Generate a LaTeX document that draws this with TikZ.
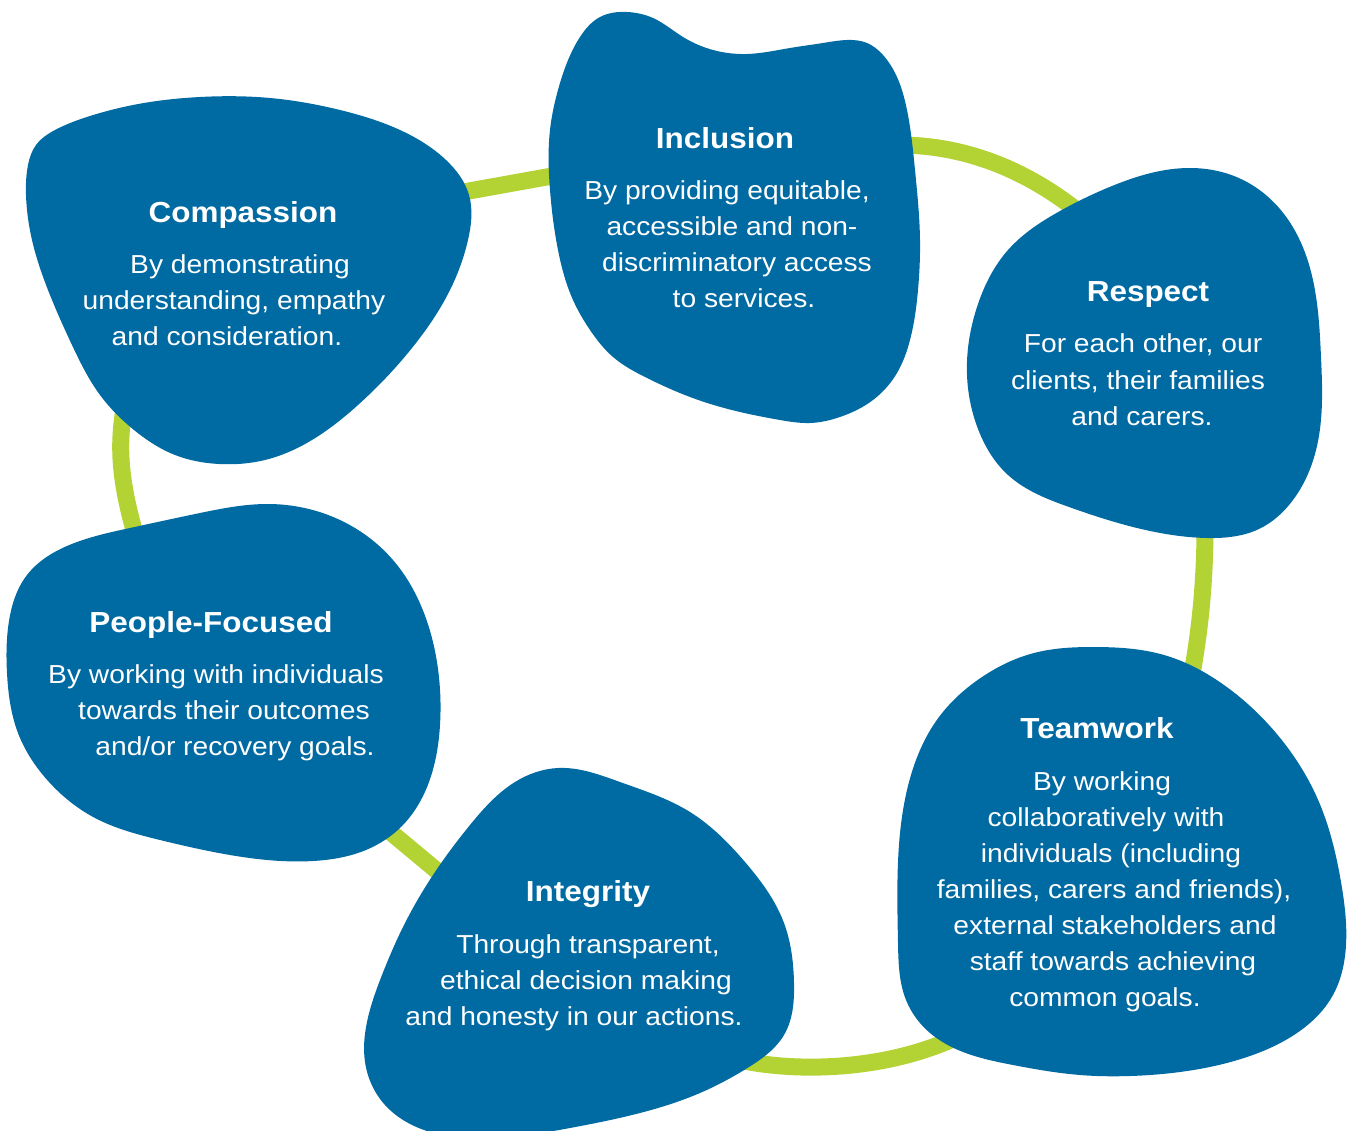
\documentclass[tikz,border=0pt]{standalone}
\usepackage{fontspec}
\usepackage{graphicx}
\usetikzlibrary{hobby}
\setmainfont{Liberation Sans}
\definecolor{blobblue}{HTML}{006AA3}
\definecolor{ringgreen}{HTML}{B3D335}
\newcommand\sx[1]{\scalebox{1.085}[1]{#1}}
\tikzset{
  blob/.style={fill=blobblue, draw=none},
  ring/.style={draw=ringgreen, line width=17pt},
  ttl/.style={text=white, inner sep=0pt, anchor=base, font=\bfseries\fontsize{29}{34}\selectfont},
  bdy/.style={text=white, inner sep=0pt, anchor=base, font=\fontsize{26}{36}\selectfont}
}
\begin{document}
\begin{tikzpicture}[x=1pt,y=-1pt]
\useasboundingbox (0,0) rectangle (1357,1131);
% ring anchor coordinates
\coordinate (r1a) at (430,198);
\coordinate (r1b) at (580,171);
\coordinate (r2a) at (890,145);
\coordinate (r2b) at (1100,230);
\coordinate (r3a) at (1205,505);
\coordinate (r3b) at (1188,695);
\coordinate (r4a) at (975,1028);
\coordinate (r4b) at (730,1058);
\coordinate (r5a) at (370,815);
\coordinate (r5b) at (460,890);
\coordinate (r6a) at (140,550);
\coordinate (r6b) at (128,390);
% ring segments
\draw[ring] (r1a) -- (r1b);
\draw[ring] (r2a) .. controls (970,143) and (1040,175) .. (r2b);
\draw[ring] (r3a) .. controls (1206,580) and (1200,635) .. (r3b);
\draw[ring] (r4a) .. controls (900,1070) and (800,1075) .. (r4b);
\draw[ring] (r5a) -- (r5b);
\draw[ring] (r6a) .. controls (118,480) and (116,440) .. (r6b);
% blobs
% Compassion
\fill[blob] plot[closed hobby] coordinates {(26,195) (28,165) (36,145) (55,130) (90,116) (133,105) (200,97) (270,98) (340,110) (400,130) (446,160) (469,195) (468,240) (450,290) (412,348) (358,405) (312,440) (265,460) (219,464) (175,455) (134,430) (100,395) (72,345) (48,290) (32,240)};
% Inclusion
\fill[blob] plot[closed hobby] coordinates {(550,130) (560,83) (580,37) (600,17) (627,12) (653,18) (683,37) (713,50) (747,54) (790,48) (823,43) (847,40) (867,43) (883,55) (897,77) (907,110) (915,170) (920,240) (918,290) (910,340) (897,373) (873,400) (840,417) (810,423) (780,420) (740,412) (690,397) (647,378) (613,357) (590,330) (573,300) (558,250) (550,190)};
% Respect
\fill[blob] plot[closed hobby] coordinates {(1060,211) (1112,186) (1190,168) (1241,179) (1284,214) (1310,268) (1321,357) (1317,446) (1293,500) (1259,529) (1207,538) (1155,532) (1069,507) (1008,475) (978,429) (967,375) (978,304) (1008,250)};
% Teamwork
\fill[blob] plot[closed hobby] coordinates {(1034,653) (1094,647) (1164,655) (1224,685) (1276,733) (1319,802) (1341,882) (1346,945) (1333,995) (1297,1033) (1247,1057) (1180,1072) (1130,1076) (1080,1075) (1013,1065) (963,1052) (930,1033) (906,1000) (898,943) (898,862) (909,782) (939,717) (982,677)};
% People-Focused
\fill[blob] plot[closed hobby] coordinates {(268,504) (200,513) (130,528) (67,546) (27,575) (9,621) (7,673) (18,733) (49,782) (95,818) (160,840) (230,855) (313,861) (366,850) (402,826) (429,782) (440,725) (438,669) (424,613) (393,560) (340,520)};
% Integrity
\fill[blob] plot[closed hobby] coordinates {(558,768) (620,782) (690,812) (745,862) (784,923) (794,983) (784,1035) (749,1067) (700,1093) (640,1113) (570,1128) (500,1138) (430,1132) (385,1105) (365,1062) (367,1022) (382,975) (404,925) (433,875) (470,825) (515,782)};
% texts: Compassion
\node[ttl] (cT) at (243,223) {\sx{Compassion}};
\node[bdy] (c1) at (240,274) {\sx{By demonstrating}};
\node[bdy] (c2) at (234,310) {\sx{understanding, empathy}};
\node[bdy] (c3) at (227,346) {\sx{and consideration.}};
% Inclusion
\node[ttl] (iT) at (725,149) {\sx{Inclusion}};
\node[bdy] (i1) at (727,200) {\sx{By providing equitable,}};
\node[bdy] (i2) at (732,236) {\sx{accessible and non-}};
\node[bdy] (i3) at (737,272) {\sx{discriminatory access}};
\node[bdy] (i4) at (744,308) {\sx{to services.}};
% Respect
\node[ttl] (rT) at (1148,302) {\sx{Respect}};
\node[bdy] (r1) at (1143,353) {\sx{For each other, our}};
\node[bdy] (r2) at (1138,389) {\sx{clients, their families}};
\node[bdy] (r3) at (1142,425) {\sx{and carers.}};
% Teamwork
\node[ttl] (tT) at (1097,738) {\sx{Teamwork}};
\node[bdy] (t1) at (1102,790) {\sx{By working}};
\node[bdy] (t2) at (1106,826) {\sx{collaboratively with}};
\node[bdy] (t3) at (1111,862) {\sx{individuals (including}};
\node[bdy] (t4) at (1114,898) {\sx{families, carers and friends),}};
\node[bdy] (t5) at (1115,934) {\sx{external stakeholders and}};
\node[bdy] (t6) at (1113,970) {\sx{staff towards achieving}};
\node[bdy] (t7) at (1105,1006) {\sx{common goals.}};
% People-Focused
\node[ttl] (pT) at (211,632) {\sx{People-Focused}};
\node[bdy] (p1) at (216,683) {\sx{By working with individuals}};
\node[bdy] (p2) at (224,719) {\sx{towards their outcomes}};
\node[bdy] (p3) at (235,755) {\sx{and/or recovery goals.}};
% Integrity
\node[ttl] (gT) at (588,901) {\sx{Integrity}};
\node[bdy] (g1) at (588,953) {\sx{Through transparent,}};
\node[bdy] (g2) at (586,989) {\sx{ethical decision making}};
\node[bdy] (g3) at (574,1025) {\sx{and honesty in our actions.}};
\end{tikzpicture}
\end{document}
